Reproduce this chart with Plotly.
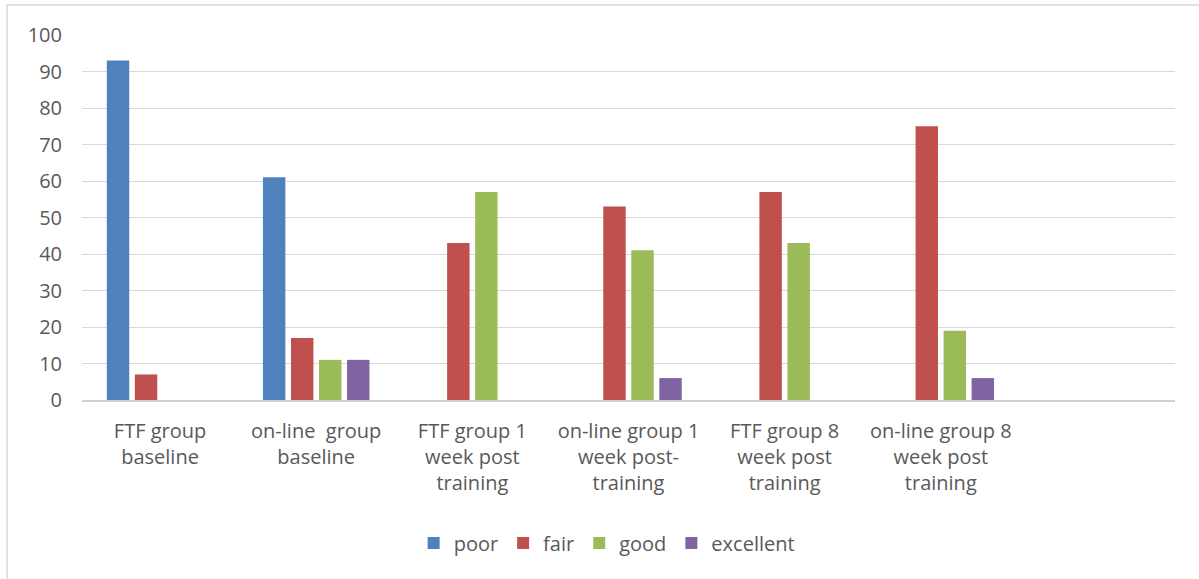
import plotly.graph_objects as go

categories = [
    "FTF group<br>baseline",
    "on-line&nbsp;&nbsp;group<br>baseline",
    "FTF group 1<br>week post<br>training",
    "on-line group 1<br>week post-<br>training",
    "FTF group 8<br>week post<br>training",
    "on-line group 8<br>week post<br>training",
]
poor = [93, 61, 0, 0, 0, 0]
fair = [7, 17, 43, 53, 57, 75]
good = [0, 11, 57, 41, 43, 19]
excellent = [0, 11, 0, 6, 0, 6]
y_ticks = list(range(0, 101, 10))

series = [
    ("poor", poor, "#4F81BD"),
    ("fair", fair, "#C0504D"),
    ("good", good, "#9BBB59"),
    ("excellent", excellent, "#8064A2"),
]

fig = go.Figure()
for name, vals, color in series:
    fig.add_trace(go.Bar(x=categories, y=vals, name=name,
                         marker=dict(color=color, line=dict(width=0))))

W, H = 1199, 579
ml, mr, mt, mb = 82, 24, 35, 179
pw, ph = W - ml - mr, H - mt - mb

font_family = "Open Sans, Liberation Sans, sans-serif"
fig.update_layout(
    width=W, height=H,
    margin=dict(l=ml, r=mr, t=mt, b=mb, pad=0),
    paper_bgcolor="white", plot_bgcolor="white",
    barmode="group", bargap=0.282, bargroupgap=0.2,
    font=dict(family=font_family, size=19, color="#595959"),
    showlegend=True,
    legend=dict(orientation="h", x=0.48, xanchor="center", y=-0.392, yanchor="middle",
                font=dict(size=20, color="#595959"), itemwidth=30,
                traceorder="normal"),
    xaxis=dict(type="category", range=[-0.5, 6.5], showgrid=False,
               showline=True, linecolor="#D0D0D0", linewidth=2,
               ticks="", tickfont=dict(size=20, color="#595959"),
               ticklabelstandoff=12),
    yaxis=dict(range=[0, 100], tickvals=y_ticks, showgrid=True,
               gridcolor="#D9D9D9", gridwidth=1.4, zeroline=False,
               showline=False, ticks="", tickfont=dict(size=20, color="#595959"),
               ticklabelstandoff=19),
    shapes=[dict(type="rect", xref="paper", yref="paper",
                 x0=(7 - ml) / pw, x1=(W + 10 - ml) / pw,
                 y0=-(H + 10 - mt - ph) / ph, y1=(H - 5 - mb) / ph,
                 line=dict(color="#D9D9D9", width=1.5), fillcolor="rgba(0,0,0,0)",
                 layer="below")],
)

fig.write_html("out.html")
